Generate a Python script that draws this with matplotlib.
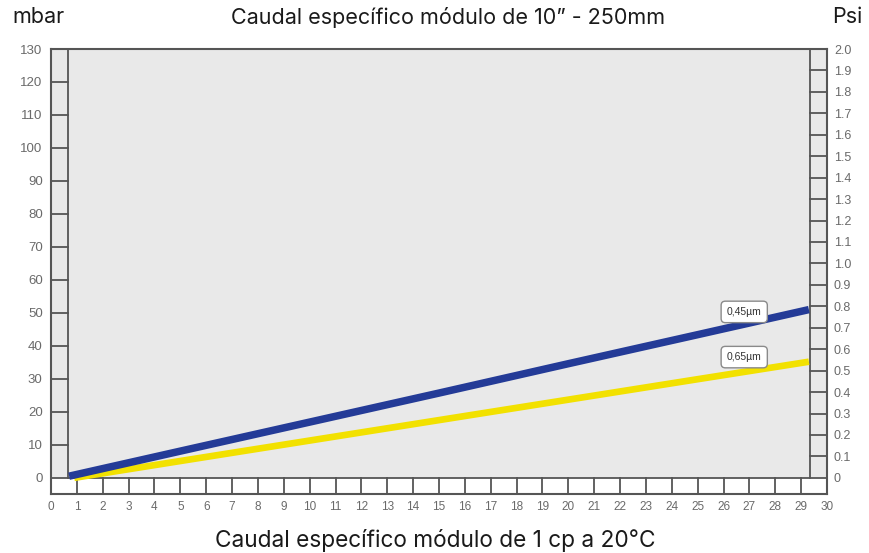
import numpy as np
import matplotlib.pyplot as plt
from matplotlib.patches import Rectangle

# caudal (eje x) y caída de presión en mbar para cada membrana
x_045 = [0.7, 5, 10, 15, 20, 25, 29.3]
y_045 = [0.5, 8.1, 16.9, 25.7, 34.6, 43.4, 51.0]
x_065 = [0.9, 5, 10, 15, 20, 25, 29.3]
y_065 = [0.0, 5.1, 11.3, 17.5, 23.7, 29.9, 35.2]

mbar_ticks = list(range(0, 140, 10))
psi_ticks = [round(0.1 * i, 1) for i in range(21)]
x_ticks = list(range(0, 31))

grey = '#e9e9e9'
edge = '#555555'
lab = '#6a6a6a'
y_min, y_max = -4.9, 130
x_in, x_out = 0.66, 29.34
psi_scale = 130 / 2.0

fig = plt.figure(figsize=(8.69, 5.53), dpi=100)
ax = fig.add_axes([51 / 869, 1 - 494 / 553, 776 / 869, 445 / 553])
ax.set_xlim(0, 30)
ax.set_ylim(y_min, y_max)

# fondos: zona gris y franja inferior blanca
ax.add_patch(Rectangle((0, 0), 30, 130, facecolor=grey, edgecolor='none', zorder=0))
ax.add_patch(Rectangle((0, y_min), 30, -y_min, facecolor='white', edgecolor='none', zorder=0))

# marco interior
ax.plot([x_in, x_in], [0, 130], color=edge, lw=1.3, zorder=2)
ax.plot([x_out, x_out], [0, 130], color=edge, lw=1.3, zorder=2)
ax.plot([0, 30], [0, 0], color=edge, lw=1.3, zorder=2)

# marcas dentro de las franjas
for v in mbar_ticks[1:-1]:
    ax.plot([0, x_in], [v, v], color=edge, lw=1.3, zorder=2)
for p in psi_ticks[1:-1]:
    ax.plot([x_out, 30], [p * psi_scale, p * psi_scale], color=edge, lw=1.3, zorder=2)
for t in x_ticks[1:-1]:
    ax.plot([t, t], [y_min, 0], color=edge, lw=1.3, zorder=2)

for s in ax.spines.values():
    s.set_color(edge)
    s.set_linewidth(1.5)

# curvas
ax.plot(x_065, y_065, color='#f2e100', lw=4.8, solid_capstyle='butt', zorder=3)
ax.plot(x_045, y_045, color='#243b97', lw=5.4, solid_capstyle='butt', zorder=4)

box = dict(boxstyle='round,pad=0.55,rounding_size=0.4', facecolor='white', edgecolor='#8a8a8a', lw=1)
ax.text(26.8, 50.3, '0,45µm', fontsize=7.5, family='Liberation Sans', color='#333333',
        ha='center', va='center', bbox=box, zorder=5)
ax.text(26.8, 36.6, '0,65µm', fontsize=7.5, family='Liberation Sans', color='#333333',
        ha='center', va='center', bbox=box, zorder=5)

# ejes
ax.set_xticks(x_ticks)
ax.set_xticklabels([str(t) for t in x_ticks])
ax.set_yticks(mbar_ticks)
ax.set_yticklabels([str(v) for v in mbar_ticks])
ax.tick_params(axis='x', length=0, colors=lab, labelsize=8.5, pad=5)
ax.tick_params(axis='y', length=0, colors=lab, labelsize=9.5, pad=6)
for t in ax.get_xticklabels() + ax.get_yticklabels():
    t.set_family('Liberation Sans')

ax2 = ax.twinx()
ax2.set_ylim(y_min / psi_scale, y_max / psi_scale)
ax2.set_yticks(psi_ticks)
ax2.set_yticklabels([f'{p:.1f}' if p > 0 else '0' for p in psi_ticks])
ax2.tick_params(axis='y', length=0, colors=lab, labelsize=9, pad=5)
for t in ax2.get_yticklabels():
    t.set_family('Liberation Sans')
for s in ax2.spines.values():
    s.set_visible(False)

# textos
tfont = dict(family='Inter', color='#1a1a1a', va='center')
fig.text(12 / 869, 1 - 17 / 553, 'mbar', ha='left', fontsize=15.5, **tfont)
fig.text(448 / 869, 1 - 17 / 553, 'Caudal específico módulo de 10” - 250mm', ha='center', fontsize=15.5, **tfont)
fig.text(862 / 869, 1 - 17 / 553, 'Psi', ha='right', fontsize=15.5, **tfont)
fig.text(435 / 869, 1 - 541 / 553, 'Caudal específico módulo de 1 cp a 20°C', ha='center', fontsize=16.3, **tfont)

fig.savefig('out.png', dpi=100)
